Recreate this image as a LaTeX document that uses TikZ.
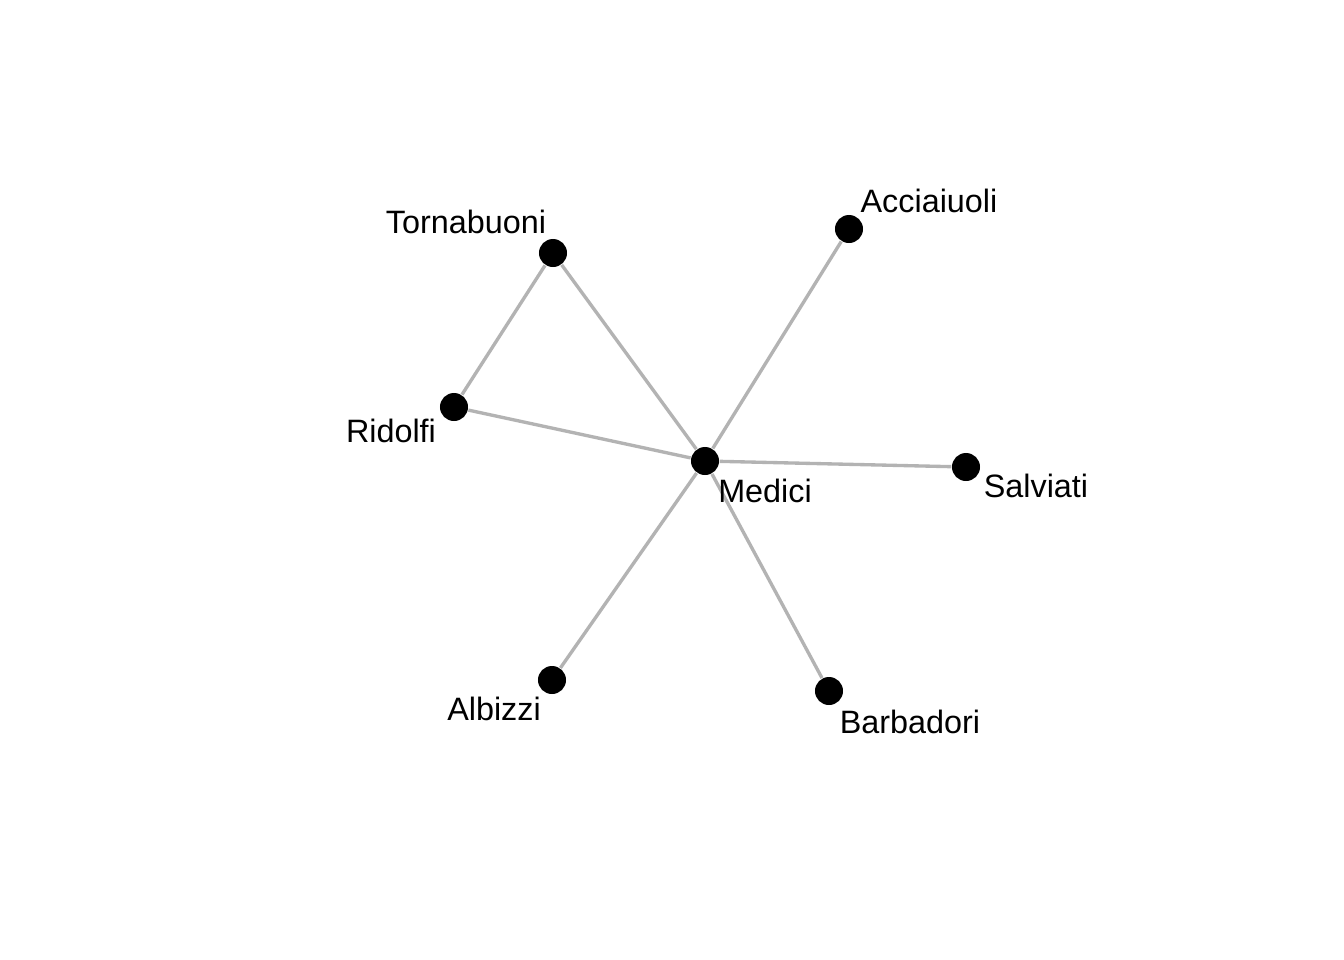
\documentclass[tikz,border=0pt]{standalone}
\usepackage{fontspec}
\setmainfont{Liberation Sans}
\usetikzlibrary{calc}
\definecolor{EdgeGrey}{HTML}{B3B3B3}
\tikzset{
  famdot/.style={circle,fill=black,inner sep=0pt,minimum size=0.28cm},
  famlabel/.style={anchor=base,inner sep=0pt,font=\fontsize{9.2}{11}\selectfont},
  tie/.style={draw=EdgeGrey,line width=.95pt}
}
\begin{document}
\begin{tikzpicture}[x=0.01cm,y=-0.01cm]
  \useasboundingbox[fill=white] (0,0) rectangle (1344,960);
  % families
  \node[famdot] (med) at (705,461) {};
  \node[famdot] (tor) at (553,253) {};
  \node[famdot] (acc) at (849,229) {};
  \node[famdot] (rid) at (454,407) {};
  \node[famdot] (sal) at (966,467) {};
  \node[famdot] (alb) at (552,680) {};
  \node[famdot] (bar) at (829,691) {};
  % ties
  \draw[tie] (tor) -- (rid);
  \draw[tie] (tor) -- (med);
  \draw[tie] (rid) -- (med);
  \draw[tie] (acc) -- (med);
  \draw[tie] (sal) -- (med);
  \draw[tie] (alb) -- (med);
  \draw[tie] (bar) -- (med);
  % names
  \node[famlabel] (medlab) at ($(med)+(60,41)$) {Medici};
  \node[famlabel] (torlab) at ($(tor)+(-87,-20)$) {Tornabuoni};
  \node[famlabel] (acclab) at ($(acc)+(80,-17)$) {Acciaiuoli};
  \node[famlabel] (ridlab) at ($(rid)+(-63,35)$) {Ridolfi};
  \node[famlabel] (sallab) at ($(sal)+(70,30)$) {Salviati};
  \node[famlabel] (alblab) at ($(alb)+(-58,40)$) {Albizzi};
  \node[famlabel] (barlab) at ($(bar)+(81,42)$) {Barbadori};
\end{tikzpicture}
\end{document}
